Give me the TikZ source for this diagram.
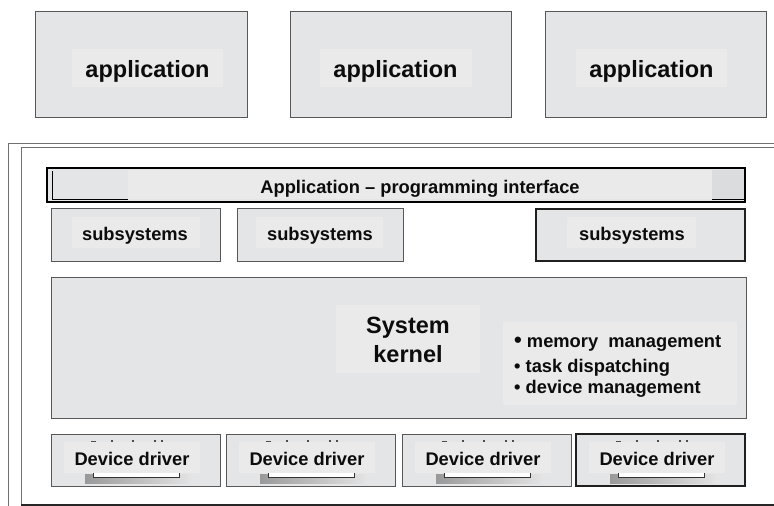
\documentclass[tikz,border=0pt]{standalone}
\usepackage{fontspec}
\setmainfont{Liberation Sans}
\definecolor{boxfill}{RGB}{228,229,231}
\definecolor{lblfill}{RGB}{234,234,235}
\definecolor{edgegray}{RGB}{88,88,88}
\definecolor{framegray}{RGB}{112,112,112}
\definecolor{ink}{RGB}{12,12,12}
\newcommand\bigtext{\fontsize{23.5}{28}\selectfont\bfseries}
\newcommand\midtext{\fontsize{18.3}{22}\selectfont\bfseries}
\begin{document}
\begin{tikzpicture}[x=1pt,y=-1pt,
  box/.style={draw=edgegray,line width=0.9pt,fill=boxfill},
  heavybox/.style={draw=black!88,line width=2.4pt,fill=boxfill},
  lbl/.style={fill=lblfill},
  big/.style={font=\bigtext,text=ink,inner sep=0pt,anchor=base},
  mid/.style={font=\midtext,text=ink,inner sep=0pt,anchor=base},
  item/.style={font=\midtext,text=ink,inner sep=0pt,anchor=base west},
  framerule/.style={draw=framegray,line width=0.9pt}]
\fill[white] (0,0) rectangle (774,506);
\useasboundingbox (0,0) rectangle (774,506);

% application boxes
\path[box] (35,11) rectangle (247,117);
\path[lbl] (72,49) rectangle (223,87);
\node[big] (app1) at (147.5,77) {application};
\path[box] (290,11) rectangle (511,117);
\path[lbl] (320,49) rectangle (472,87);
\node[big] (app2) at (395.5,77) {application};
\path[box] (545,11) rectangle (766,117);
\path[lbl] (576,49) rectangle (727,87);
\node[big] (app3) at (651.5,77) {application};

% operating system frame
\draw[framerule] (8,506) -- (8,143) -- (774,143);
\draw[framerule] (774,147) -- (21,147) -- (21,505);
\draw[draw=black!85,line width=1.1pt] (21,505) -- (774,505);

% programming interface bar
\path[fill=boxfill] (47,168) rectangle (745,202);
\path[lbl] (128,170) rectangle (712,199);
\path[fill=boxfill!96!black] (712,170) rectangle (744,199);
\draw[black,line width=0.9pt] (52,171) -- (52,199) -- (128,199);
\draw[black,line width=1pt] (712,199.5) -- (744,199.5);
\draw[black,line width=2.4pt] (47,168) rectangle (745,202);
\node[mid] (api) at (420,193) {Application \textendash\ programming interface};

% subsystems
\path[box] (51,208) rectangle (220,261);
\path[lbl] (72,217) rectangle (200,248);
\node[mid] (sub1) at (135,240) {subsystems};
\path[box] (237,208) rectangle (403,261);
\path[lbl] (256,217) rectangle (383,248);
\node[mid] (sub2) at (320,240) {subsystems};
\path[heavybox] (536,209) rectangle (745,261);
\path[lbl] (567,217) rectangle (696,248);
\node[mid] (sub3) at (632,240) {subsystems};

% kernel
\path[box] (51,277) rectangle (746,418);
\path[lbl] (336,305) rectangle (480,373);
\node[big] (sys) at (408,333) {System};
\node[big] (kern) at (408,362) {kernel};
\path[lbl] (503,322) rectangle (737,405);
\node[item] (mem) at (514,347) {{\fontsize{22}{22}\selectfont\textbullet}\ memory~~management};
\node[item] (task) at (514,372) {\textbullet\ task dispatching};
\node[item] (dev) at (514,393) {\textbullet\ device management};

% device drivers
\foreach \L/\st/\n in {51/box/1, 226/box/2, 402/box/3, 576/heavybox/4} {
  \path[\st] (\L,434) rectangle (\L+169,486);
  \shade[left color=gray!80,right color=gray!22] (\L+34,474) rectangle (\L+139,483);
  \fill[white] (\L+42,470) rectangle (\L+128,477);
  \draw[black!80,line width=0.9pt] (\L+42,470) -- (\L+42,477) -- (\L+128,477) -- (\L+128,470);
  \path[lbl] (\L+13,442) rectangle (\L+149,473);
  \draw[black!70,line width=0.8pt] (\L+40,441) -- (\L+45,441);
  \foreach \t in {61,82,104,111} \fill[black!70] (\L+\t-0.8,440) rectangle (\L+\t+0.8,442);
  \node[mid] (drv\n) at (\L+81,465) {Device driver};
}
\end{tikzpicture}
\end{document}
